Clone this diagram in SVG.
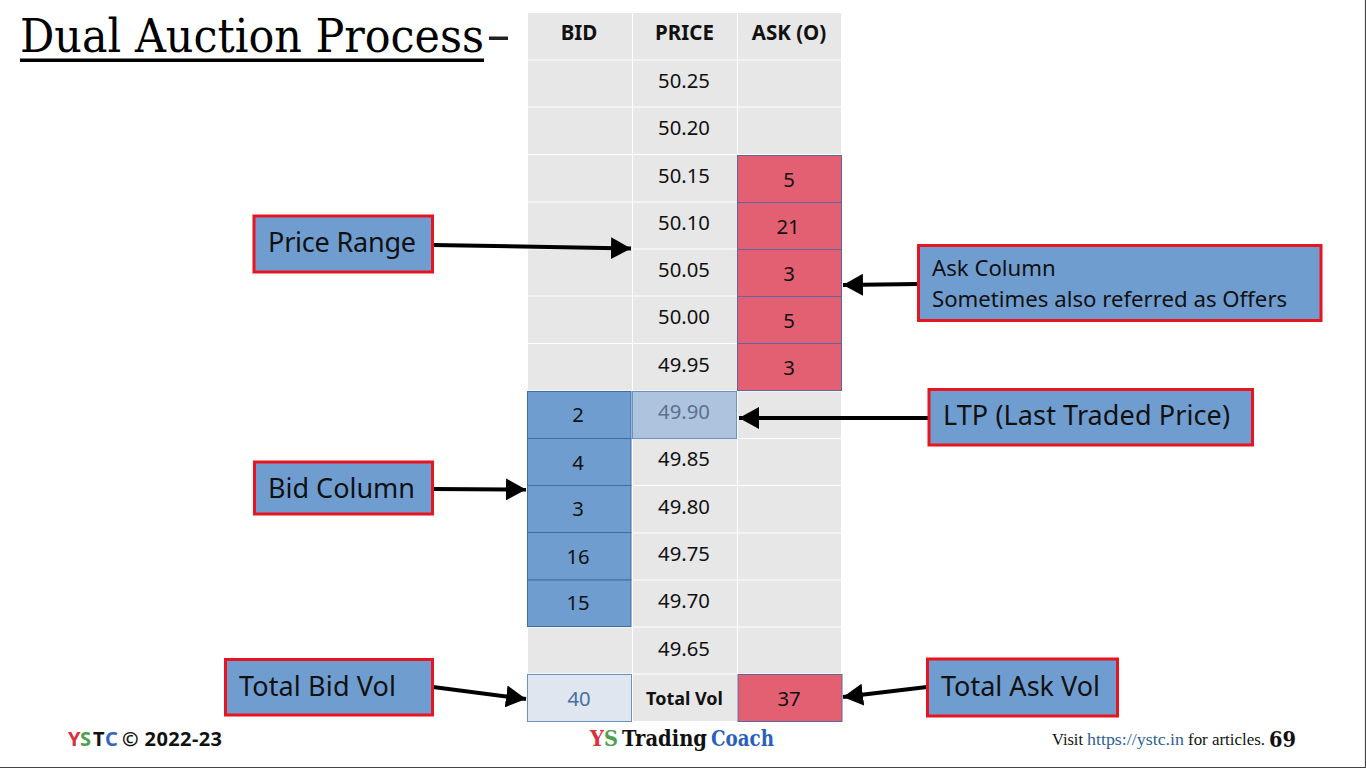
<svg xmlns="http://www.w3.org/2000/svg" width="1366" height="768" viewBox="0 0 1366 768">
<style>
text{font-family:"Noto Sans","Open Sans",sans-serif;fill:#111}
.c{fill:#e7e7e7}
.t{font-size:20.300px;text-anchor:middle}
.h{font-size:20.500px;font-weight:700;text-anchor:middle}
.b{fill:#709dd0;stroke:#3f6ea3;stroke-width:1}
.a{fill:#e35f72;stroke:#5f66a0;stroke-width:1}
.l{fill:#709dd0;stroke:#e8141f;stroke-width:3}
.n{font-size:27px}
.s{font-size:22.200px}
.sf{font-family:"DejaVu Serif","Liberation Serif",serif}
.fb{font-size:20px;font-weight:700}
.fv{font-family:"Liberation Serif",serif;font-size:16.500px}
.w{stroke:#000;stroke-width:4;fill:none;marker-end:url(#ah)}
</style>
<defs><marker id="ah" markerUnits="userSpaceOnUse" markerWidth="22" markerHeight="22" refX="20" refY="11" orient="auto"><path d="M0 0L20 11L0 22Z" fill="#000"/></marker></defs>
<rect width="1366" height="768" fill="#fff"/>
<path d="M1365.5 0V767.5H0" fill="none" stroke="#444" stroke-width="1.2"/>
<g id="title"><text x="20" y="52" textLength="464" lengthAdjust="spacingAndGlyphs" class="sf" style="font-size:47px;fill:#000">Dual Auction Process</text><rect x="20" y="58.500" width="464" height="3.500" fill="#000"/><rect x="489" y="36.500" width="19" height="3.500" fill="#222"/></g>
<g id="grid">
<rect class="c" x="528" y="13" width="104" height="46.500"/><rect class="c" x="633" y="13" width="104" height="46.500"/><rect class="c" x="738" y="13" width="103" height="46.500"/>
<rect class="c" x="528" y="60.500" width="104" height="46"/><rect class="c" x="633" y="60.500" width="104" height="46"/><rect class="c" x="738" y="60.500" width="103" height="46"/>
<rect class="c" x="528" y="107.500" width="104" height="46.500"/><rect class="c" x="633" y="107.500" width="104" height="46.500"/><rect class="c" x="738" y="107.500" width="103" height="46.500"/>
<rect class="c" x="528" y="155" width="104" height="46.500"/><rect class="c" x="633" y="155" width="104" height="46.500"/>
<rect class="c" x="528" y="202.500" width="104" height="46"/><rect class="c" x="633" y="202.500" width="104" height="46"/>
<rect class="c" x="528" y="249.500" width="104" height="46"/><rect class="c" x="633" y="249.500" width="104" height="46"/>
<rect class="c" x="528" y="296.500" width="104" height="46.500"/><rect class="c" x="633" y="296.500" width="104" height="46.500"/>
<rect class="c" x="528" y="344" width="104" height="46.500"/><rect class="c" x="633" y="344" width="104" height="46.500"/>
<rect class="c" x="738" y="391.500" width="103" height="46.500"/>
<rect class="c" x="633" y="439" width="104" height="46"/><rect class="c" x="738" y="439" width="103" height="46"/>
<rect class="c" x="633" y="486" width="104" height="46.500"/><rect class="c" x="738" y="486" width="103" height="46.500"/>
<rect class="c" x="633" y="533.500" width="104" height="46"/><rect class="c" x="738" y="533.500" width="103" height="46"/>
<rect class="c" x="633" y="580.500" width="104" height="46"/><rect class="c" x="738" y="580.500" width="103" height="46"/>
<rect class="c" x="528" y="627.500" width="104" height="46"/><rect class="c" x="633" y="627.500" width="104" height="46"/><rect class="c" x="738" y="627.500" width="103" height="46"/>
<rect class="c" x="633" y="674.500" width="104" height="46.500"/>
<rect class="a" x="737.500" y="155.500" width="104" height="47"/><rect class="a" x="737.500" y="202.500" width="104" height="47"/><rect class="a" x="737.500" y="249.500" width="104" height="47"/><rect class="a" x="737.500" y="296.500" width="104" height="47"/><rect class="a" x="737.500" y="343.500" width="104" height="47"/>
<rect class="b" x="527.500" y="391.500" width="103.500" height="47"/><rect class="b" x="527.500" y="438.500" width="103.500" height="47"/><rect class="b" x="527.500" y="485.500" width="103.500" height="47"/><rect class="b" x="527.500" y="532.500" width="103.500" height="47.500"/><rect class="b" x="527.500" y="580" width="103.500" height="46.500"/>
<rect x="632.500" y="391.500" width="104" height="47" fill="#aec3de" stroke="#6a94c0"/>
<rect x="527.500" y="674.500" width="104" height="47" fill="#dfe6f0" stroke="#6a94c0"/>
<rect class="a" x="738" y="674.500" width="104" height="47"/>
<text class="h" x="579" y="40">BID</text><text class="h" x="684.500" y="40">PRICE</text><text class="h" x="789" y="40">ASK (O)</text>
<text class="t" x="684" y="88">50.25</text><text class="t" x="684" y="135">50.20</text><text class="t" x="684" y="183">50.15</text><text class="t" x="684" y="230">50.10</text><text class="t" x="684" y="277">50.05</text><text class="t" x="684" y="324">50.00</text><text class="t" x="684" y="372">49.95</text>
<text class="t" x="684" y="419" style="fill:#5b7190">49.90</text>
<text class="t" x="684" y="466">49.85</text><text class="t" x="684" y="513.500">49.80</text><text class="t" x="684" y="561">49.75</text><text class="t" x="684" y="608">49.70</text><text class="t" x="684" y="655.500">49.65</text>
<text class="t" x="789" y="187">5</text><text class="t" x="788" y="234">21</text><text class="t" x="789" y="281">3</text><text class="t" x="789" y="328">5</text><text class="t" x="789" y="375">3</text>
<text class="t" x="578" y="422">2</text><text class="t" x="578" y="470">4</text><text class="t" x="578" y="516">3</text><text class="t" x="578" y="564">16</text><text class="t" x="578" y="610">15</text>
<text class="t" x="579" y="706" style="fill:#46709f">40</text><text x="684.500" y="705" text-anchor="middle" font-size="18" font-weight="700">Total Vol</text><text class="t" x="789" y="706">37</text>
</g>
<g id="connectors">
<path class="w" d="M433 245L631 248.500"/>
<path class="w" d="M918 284L843 285"/>
<path class="w" d="M929 418L739 418"/>
<path class="w" d="M433 489L526 489.500"/>
<path class="w" d="M433 687L526 699"/>
<path class="w" d="M927 687L843 697"/>
</g>
<g id="price-range"><rect class="l" x="254" y="216" width="178.500" height="56"/><text class="n" x="268" y="252" textLength="148">Price Range</text></g>
<g id="ask-column"><rect class="l" x="918.500" y="245.500" width="402.500" height="75"/><text class="s" x="932" y="276">Ask Column</text><text class="s" x="932" y="306.500">Sometimes also referred as Offers</text></g>
<g id="ltp"><rect class="l" x="929" y="389.500" width="323.500" height="55.500"/><text class="n" x="943" y="425" textLength="287">LTP (Last Traded Price)</text></g>
<g id="bid-column"><rect class="l" x="254.500" y="462" width="178" height="52"/><text class="n" x="268" y="498" textLength="147">Bid Column</text></g>
<g id="total-bid"><rect class="l" x="225.500" y="659.500" width="207" height="55.500"/><text class="n" x="239" y="695.500" textLength="157">Total Bid Vol</text></g>
<g id="total-ask"><rect class="l" x="927.500" y="659" width="190" height="57"/><text class="n" x="941" y="695.500" textLength="159">Total Ask Vol</text></g>
<g id="footer">
<text class="fb" x="68" y="746" style="fill:#d9303c">Y</text><text class="fb" x="80" y="746" style="fill:#4da04d">S</text><text class="fb" x="93" y="746">T</text><text class="fb" x="105" y="746" style="fill:#3565c0">C</text><text class="fb" x="122" y="746" textLength="100">© 2022-23</text>
<text class="sf" x="590" y="746" font-size="22" font-weight="700" style="fill:#d9303c" textLength="14" lengthAdjust="spacingAndGlyphs">Y</text>
<text class="sf" x="604" y="746" font-size="22" font-weight="700" style="fill:#4da04d" textLength="14" lengthAdjust="spacingAndGlyphs">S</text>
<text class="sf" x="622" y="746" font-size="22" font-weight="700" textLength="85" lengthAdjust="spacingAndGlyphs">Trading</text>
<text class="sf" x="711" y="746" font-size="22" font-weight="700" style="fill:#2a5fc0" textLength="63" lengthAdjust="spacingAndGlyphs">Coach</text>
<text class="fv" x="1052" y="745" textLength="31" lengthAdjust="spacingAndGlyphs">Visit</text>
<text class="fv" x="1087" y="745" style="fill:#2f5f94" textLength="97" lengthAdjust="spacingAndGlyphs">https://ystc.in</text>
<text class="fv" x="1188" y="745" textLength="77" lengthAdjust="spacingAndGlyphs">for articles.</text>
<text class="sf" x="1269" y="747" font-size="23" font-weight="700" textLength="27" lengthAdjust="spacingAndGlyphs">69</text>
</g>
</svg>
